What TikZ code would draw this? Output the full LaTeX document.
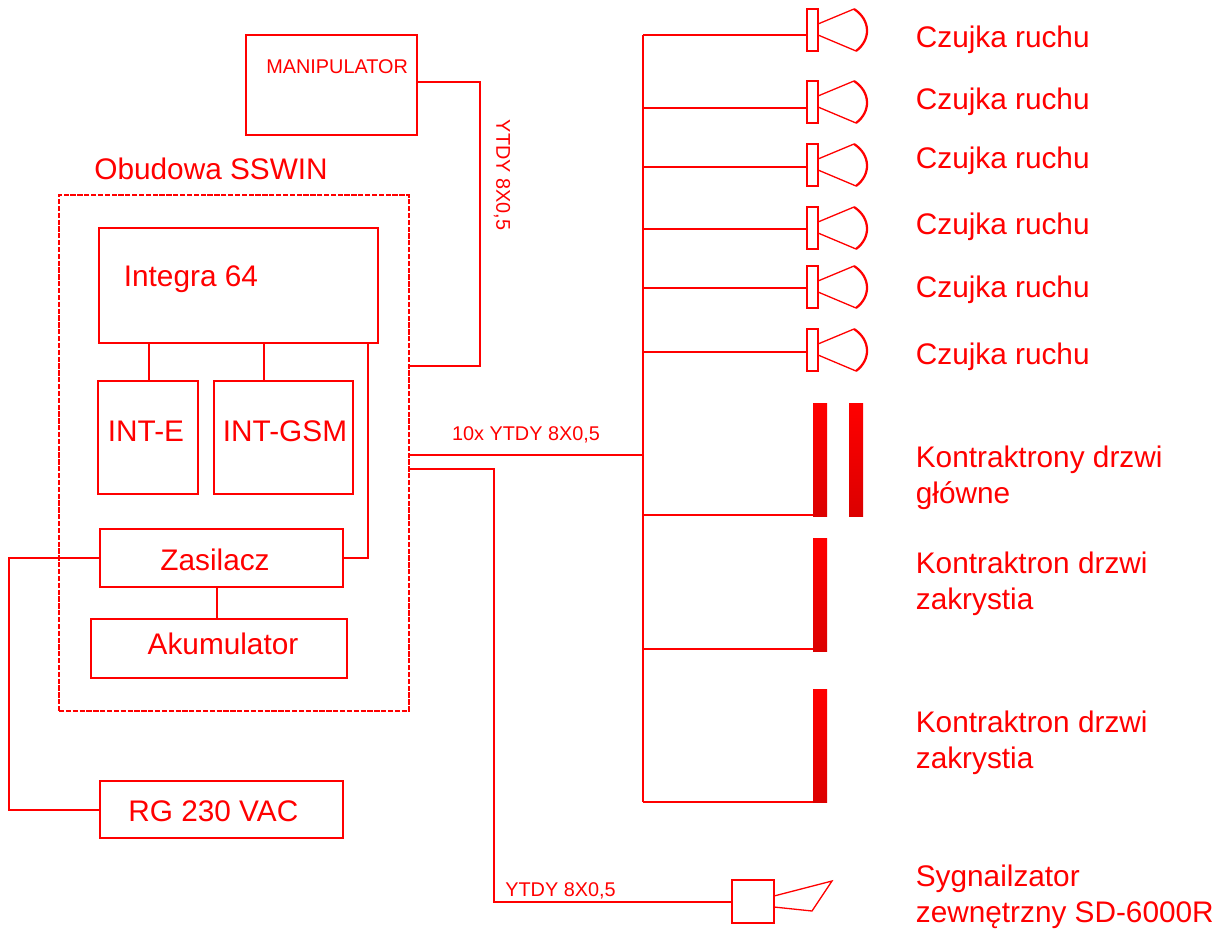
\documentclass[tikz,border=0pt]{standalone}
\usepackage{fontspec}
\setmainfont{Liberation Sans}
\usepackage{tikz}
\usetikzlibrary{calc}
\definecolor{alarmred}{RGB}{255,0,0}
\tikzset{
  wire/.style={draw=alarmred, line width=0.4mm},
  thinwire/.style={draw=alarmred, line width=0.26mm},
  unitbox/.style={
    rectangle, draw=alarmred, line width=0.4mm, fill=white,
    inner sep=0pt, outer sep=0pt
  },
  casebox/.style={
    unitbox, dash pattern=on 3pt off 0.9pt, line width=0.3mm, fill=none
  },
  contact/.style={
    rectangle, inner sep=0pt, outer sep=0pt, minimum width=0.28cm,
    minimum height=2.28cm, top color=alarmred,
    bottom color=alarmred!86!black
  },
  biglabel/.style={
    font=\fontsize{16.95}{20.4}\selectfont, text=alarmred, align=left,
    inner sep=0pt
  },
  smalllabel/.style={
    font=\fontsize{11.3}{13.5}\selectfont, text=alarmred, inner sep=0pt
  },
  czujka/.pic={
    \node[unitbox, line width=0.22mm, minimum width=0.22cm, minimum height=0.84cm]
      (-box) at (5.5, 21) {};
    \draw[thinwire] (11, 15) -- (47, 0);
    \draw[thinwire] (11, 26) -- (49, 42);
    \draw[draw=alarmred, line width=0.45mm]
      (47, 0) .. controls (64, 11) and (64, 31) .. (49, 42);
  },
}

\begin{document}
\begin{tikzpicture}[x=0.02cm, y=-0.02cm]
  \useasboundingbox (0, 0) rectangle (1226, 929);

  % -- Manipulator ---------------------------------------------
  \node[unitbox, minimum width=3.42cm, minimum height=2cm]
    (manipulator) at (331.5, 85) {};
  \node[smalllabel, anchor=west] (manipulatortxt) at (266, 66.5) {MANIPULATOR};

  % -- Obudowa -------------------------------------------------
  \node[casebox, minimum width=7cm, minimum height=10.32cm]
    (obudowa) at (234, 453) {};
  \node[biglabel, anchor=west] (obudowatxt) at (94, 169) {Obudowa SSWIN};

  \node[unitbox, minimum width=5.58cm, minimum height=2.3cm]
    (integra) at (238.5, 285.5) {};
  \node[biglabel, anchor=west] (integratxt) at (123.5, 279) {Integra 64};

  \node[unitbox, minimum width=2cm, minimum height=2.26cm]
    (inte) at (148, 437.5) {};
  \node[biglabel] (intetxt) at (146, 431) {INT-E};
  \node[unitbox, minimum width=2.78cm, minimum height=2.26cm]
    (intgsm) at (283.5, 437.5) {};
  \node[biglabel] (intgsmtxt) at (285, 431) {INT-GSM};

  \node[unitbox, minimum width=4.86cm, minimum height=1.16cm]
    (zasilacz) at (221.5, 558) {};
  \node[biglabel] (zasilacztxt) at (215, 560) {Zasilacz};
  \node[unitbox, minimum width=5.12cm, minimum height=1.18cm]
    (akumulator) at (219, 648.5) {};
  \node[biglabel] (akumulatortxt) at (223, 644) {Akumulator};

  \node[unitbox, minimum width=4.86cm, minimum height=1.14cm]
    (rg) at (221.5, 809.5) {};
  \node[biglabel, anchor=west] (rgtxt) at (128, 811) {RG 230 VAC};

  % -- Polaczenia w obudowie -----------------------------------
  \coordinate (tapa) at (149, 343);
  \coordinate (tapb) at (264, 343);
  \coordinate (tapc) at (368, 343);
  \coordinate (tapd) at (217, 587);
  \draw[wire] (tapa) -- (tapa |- inte.north);
  \draw[wire] (tapb) -- (tapb |- intgsm.north);
  \draw[wire] (tapc) |- (zasilacz.east);
  \draw[wire] (tapd) -- (tapd |- akumulator.north);

  \coordinate (zasleft) at (9, 558);
  \draw[wire] (zasilacz.west) -- (zasleft) |- (rg.west);

  % -- Magistrale ----------------------------------------------
  \coordinate (manright) at (480, 82);
  \coordinate (casea) at (409, 366);
  \draw[wire] (manipulator.east |- manright) -- (manright) |- (casea);
  \node[smalllabel, rotate=-90] (manipcable) at (502, 175) {YTDY 8X0,5};

  \coordinate (caseb) at (409, 455);
  \coordinate (bus) at (643, 455);
  \draw[wire] (caseb) -- (bus);
  \node[smalllabel] (buscable) at (526, 435) {10x YTDY 8X0,5};

  \coordinate (bustop) at (643, 35);
  \coordinate (busend) at (643, 802);
  \draw[wire] (bustop) -- (busend);

  % -- Czujki --------------------------------------------------
  \pic (cza) at (807, 9) {czujka};
  \pic (czb) at (807, 81) {czujka};
  \pic (czc) at (807, 144) {czujka};
  \pic (czd) at (807, 207) {czujka};
  \pic (cze) at (807, 266) {czujka};
  \pic (czf) at (807, 329) {czujka};

  \coordinate (ta) at (807, 35);
  \coordinate (tb) at (807, 108);
  \coordinate (tc) at (807, 167);
  \coordinate (td) at (807, 229);
  \coordinate (te) at (807, 288);
  \coordinate (tf) at (807, 352);
  \draw[wire] (bustop) -- (ta);
  \draw[wire] (bus |- tb) -- (tb);
  \draw[wire] (bus |- tc) -- (tc);
  \draw[wire] (bus |- td) -- (td);
  \draw[wire] (bus |- te) -- (te);
  \draw[wire] (bus |- tf) -- (tf);

  \node[biglabel, anchor=west] (cztxta) at (915.5, 40) {Czujka ruchu};
  \node[biglabel, anchor=west] (cztxtb) at (915.5, 102) {Czujka ruchu};
  \node[biglabel, anchor=west] (cztxtc) at (915.5, 161) {Czujka ruchu};
  \node[biglabel, anchor=west] (cztxtd) at (915.5, 227) {Czujka ruchu};
  \node[biglabel, anchor=west] (cztxte) at (915.5, 290) {Czujka ruchu};
  \node[biglabel, anchor=west] (cztxtf) at (915.5, 357) {Czujka ruchu};

  % -- Kontraktrony --------------------------------------------
  \node[contact] (konta) at (820, 460) {};
  \node[contact] (kontb) at (856, 460) {};
  \node[contact] (kontc) at (820, 595) {};
  \node[contact] (kontd) at (820, 746) {};

  \coordinate (ka) at (813, 515);
  \coordinate (kc) at (813, 649);
  \coordinate (kd) at (813, 802);
  \draw[wire] (bus |- ka) -- (ka);
  \draw[wire] (bus |- kc) -- (kc);
  \draw[wire] (busend) -- (kd);

  \node[biglabel, anchor=west] (konttxta) at (915.5, 478)
    {Kontraktrony drzwi\\główne};
  \node[biglabel, anchor=west] (konttxtc) at (915.5, 584)
    {Kontraktron drzwi\\zakrystia};
  \node[biglabel, anchor=west] (konttxtd) at (915.5, 743)
    {Kontraktron drzwi\\zakrystia};

  % -- Sygnalizator --------------------------------------------
  \node[unitbox, line width=0.26mm, minimum width=0.84cm, minimum height=0.86cm]
    (syg) at (753, 901.5) {};
  \coordinate (cone) at (774, 896);
  \coordinate (coneb) at (774, 907);
  \draw[thinwire] (cone) -- (832, 881) -- (812, 911) -- (coneb);

  \coordinate (casec) at (409, 469);
  \coordinate (sygdrop) at (494, 469);
  \draw[wire] (casec) -- (sygdrop) |- (syg.west);
  \node[smalllabel, anchor=west] (sygcable) at (505, 890.5) {YTDY 8X0,5};
  \node[biglabel, anchor=west] (sygtxt) at (915.5, 897)
    {Sygnailzator\\zewnętrzny SD-6000R};
\end{tikzpicture}
\end{document}
